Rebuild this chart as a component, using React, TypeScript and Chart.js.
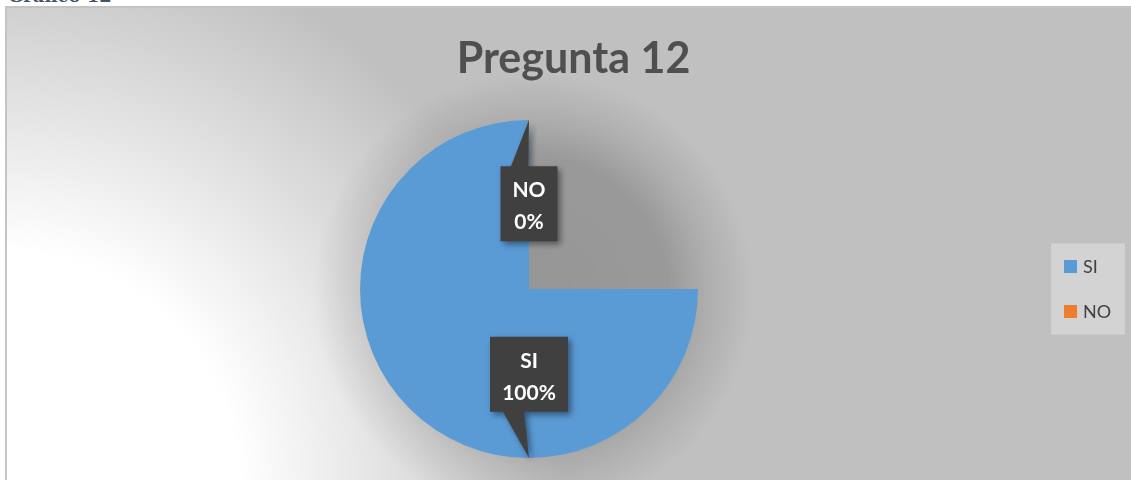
import React, { useEffect, useRef } from "react";
import { Chart, registerables } from "chart.js";

Chart.register(...registerables);

const categories: string[] = ["SI", "NO"];
const values: number[] = [100, 0];
const colors: string[] = ["#5B9BD5", "#ED7D31"];
const chartTitle = "Pregunta 12";
const captionText = "Gráfico 12";

const customPlugin = {
  id: "customPie",
  beforeDatasetsDraw(chart: any) {
    const ctx = chart.ctx as CanvasRenderingContext2D;
    const arc = chart.getDatasetMeta(0).data[0];
    if (!arc) return;
    const { x, y, outerRadius } = arc.getProps(["x", "y", "outerRadius"], true);
    const sx = x + 4;
    const sy = y + 4;
    const R = outerRadius * 1.3;
    const g = ctx.createRadialGradient(sx, sy, 0, sx, sy, R);
    g.addColorStop(0, "rgba(0,0,0,0.22)");
    g.addColorStop(0.62, "rgba(0,0,0,0.2)");
    g.addColorStop(0.8, "rgba(0,0,0,0.09)");
    g.addColorStop(1, "rgba(0,0,0,0)");
    ctx.save();
    ctx.fillStyle = g;
    ctx.beginPath();
    ctx.arc(sx, sy, R, 0, Math.PI * 2);
    ctx.fill();
    ctx.restore();
  },
  afterDatasetsDraw(chart: any) {
    const ctx = chart.ctx as CanvasRenderingContext2D;
    const meta = chart.getDatasetMeta(0);
    const arc = meta.data[0];
    if (!arc) return;
    const { x, y, outerRadius } = arc.getProps(["x", "y", "outerRadius"], true);
    const data: number[] = chart.data.datasets[0].data;
    const total = data.reduce((a: number, b: number) => a + b, 0);
    let cum = 0;
    const font = "bold 21px Lato";
    data.forEach((v: number, i: number) => {
      const share = total ? v / total : 0;
      const ang = -Math.PI / 2 + 2 * Math.PI * (cum + share / 2);
      cum += share;
      const tipX = x + Math.cos(ang) * outerRadius;
      const tipY = y + Math.sin(ang) * outerRadius;
      const cx = x + Math.cos(ang) * outerRadius * 0.505;
      const cy = y + Math.sin(ang) * outerRadius * 0.505;
      const lines = [String(chart.data.labels[i]), Math.round(share * 100) + "%"];
      ctx.save();
      ctx.font = font;
      const tw = Math.max(...lines.map((l) => ctx.measureText(l).width));
      const bw = Math.round(tw + 24);
      const bh = 75;
      const left = cx - bw / 2;
      const top = cy - bh / 2;
      const below = tipY > cy;
      ctx.shadowColor = "rgba(0,0,0,0.45)";
      ctx.shadowBlur = 6;
      ctx.shadowOffsetX = 3;
      ctx.shadowOffsetY = 3;
      ctx.fillStyle = "#404040";
      ctx.beginPath();
      ctx.moveTo(left, top);
      if (!below) {
        ctx.lineTo(cx - 18, top);
        ctx.lineTo(tipX, tipY);
        ctx.lineTo(cx - 1, top);
      }
      ctx.lineTo(left + bw, top);
      ctx.lineTo(left + bw, top + bh);
      if (below) {
        ctx.lineTo(cx - 5, top + bh);
        ctx.lineTo(tipX, tipY);
        ctx.lineTo(cx - 26, top + bh);
      }
      ctx.lineTo(left, top + bh);
      ctx.closePath();
      ctx.fill();
      ctx.shadowColor = "transparent";
      ctx.fillStyle = "#ffffff";
      ctx.textAlign = "center";
      ctx.textBaseline = "middle";
      ctx.fillText(lines[0], cx, top + 24);
      ctx.fillText(lines[1], cx, top + 56);
      ctx.restore();
    });
  },
  afterDraw(chart: any) {
    const ctx = chart.ctx as CanvasRenderingContext2D;
    const arc = chart.getDatasetMeta(0).data[0];
    const cy = arc ? arc.y : chart.height / 2;
    ctx.save();
    // title
    ctx.font = "bold 43px Lato";
    ctx.fillStyle = "#4f4f4f";
    ctx.textAlign = "center";
    ctx.textBaseline = "alphabetic";
    ctx.fillText(chartTitle, chart.width / 2 + 8, 73);
    // legend
    const labels: string[] = chart.data.labels;
    const bw = 74;
    const itemGap = 45;
    const bh = 91;
    const bx = chart.width - 6 - bw;
    const by = cy - bh / 2;
    ctx.fillStyle = "#d3d3d3";
    ctx.fillRect(bx, by, bw, bh);
    ctx.font = "18px Lato";
    ctx.textBaseline = "middle";
    ctx.textAlign = "left";
    labels.forEach((l, i) => {
      const iy = cy - itemGap / 2 + i * itemGap;
      ctx.fillStyle = chart.data.datasets[0].backgroundColor[i];
      ctx.fillRect(bx + 13, iy - 6.5, 13, 13);
      ctx.fillStyle = "#404040";
      ctx.fillText(l, bx + 32, iy + 1);
    });
    ctx.restore();
  },
};

export default function App() {
  const ref = useRef<HTMLCanvasElement>(null);
  useEffect(() => {
    if (!ref.current) return;
    const chart = new Chart(ref.current, {
      type: "pie",
      data: {
        labels: categories,
        datasets: [
          {
            data: values,
            backgroundColor: colors,
            borderWidth: 0,
          },
        ],
      },
      options: {
        responsive: false,
        animation: false,
        rotation: 90,
        circumference: 270,
        layout: { padding: { left: 360, right: 433, top: 120, bottom: 22 } },
        plugins: {
          legend: { display: false },
          tooltip: { enabled: false },
          title: { display: false },
        },
      },
      plugins: [customPlugin],
    });
    return () => chart.destroy();
  }, []);

  return (
    <div
      style={{
        position: "fixed",
        left: 0,
        top: 0,
        width: 1131,
        height: 480,
        overflow: "hidden",
        background: "#ffffff",
      }}
    >
      <div
        style={{
          position: "absolute",
          left: 8,
          top: -15,
          font: "bold 18px 'DejaVu Serif', serif",
          color: "#44546a",
          whiteSpace: "nowrap",
        }}
      >
        {captionText}
      </div>
      <div
        style={{
          position: "absolute",
          left: 5,
          top: 6,
          width: 1140,
          height: 480,
          boxSizing: "border-box",
          borderLeft: "2px solid #c4c4c4",
          borderTop: "2px solid #c4c4c4",
          background:
            "radial-gradient(circle at 0px 474px, #ffffff 0px, #ffffff 230px, #c0c0c0 560px)",
        }}
      />
      <canvas
        ref={ref}
        width={1131}
        height={480}
        style={{ position: "absolute", left: 0, top: 0, width: 1131, height: 480 }}
      />
    </div>
  );
}
